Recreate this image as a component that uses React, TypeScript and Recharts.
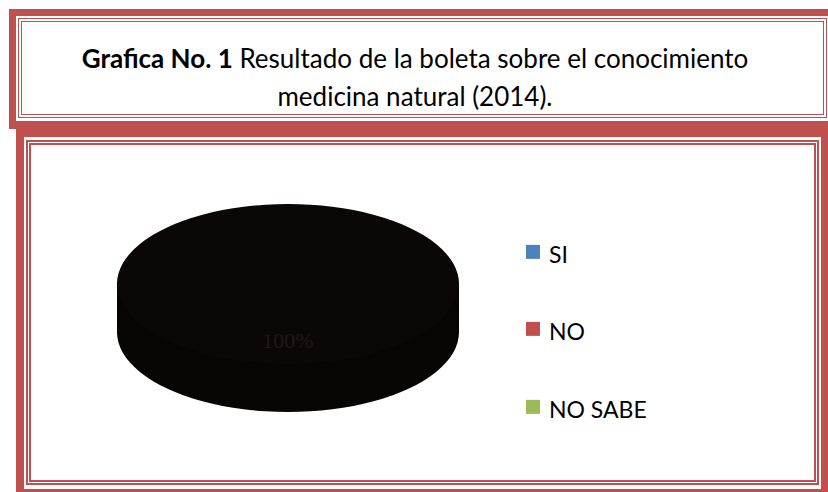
import React from "react";
import { PieChart, Pie, Cell, Legend } from "recharts";

const CATEGORIES = ["SI", "NO", "NO SABE"];
const VALUES = [100, 0, 0];
const LEGEND_COLORS = ["#4F81BD", "#C0504D", "#9BBB59"];
const TOP_FILL = "#0c0707";
const SIDE_FILL = "#070404";
const RED = "#C0504D";

// vertical squash that turns the circle into the tilted ellipse
const K = 80 / 171;
const CHART_H = Math.round(492 / K);
const PIE_CX = 288;
const PIE_CY = 284 / K;
const PIE_R = 171;
const DEPTH = 48 / K;
const SIDE_OFFSETS = [1, 0.9, 0.8, 0.7, 0.6, 0.5, 0.4, 0.3, 0.2, 0.1];

const data = CATEGORIES.map((name, i) => ({ name, value: VALUES[i] }));

const RAD = Math.PI / 180;

function renderLabel(p: any) {
  if (!p.percent) return null;
  const r = p.outerRadius * 0.7;
  const x = p.cx + r * Math.cos(-p.midAngle * RAD);
  const y = p.cy + r * Math.sin(-p.midAngle * RAD);
  return (
    <text
      x={x}
      y={y * K}
      transform={`scale(1, ${1 / K})`}
      textAnchor="middle"
      dominantBaseline="central"
      fill="#1f1919"
      fontSize={22}
      fontFamily="Liberation Serif"
    >
      {`${Math.round(p.percent * 100)}%`}
    </text>
  );
}

function LegendBox() {
  return (
    <div style={{ transform: `scaleY(${1 / K})`, transformOrigin: "0 0" }}>
      {CATEGORIES.map((c, i) => (
        <div key={c} style={{ display: "flex", alignItems: "center", height: 77.5 }}>
          <span style={{ width: 14, height: 14, background: LEGEND_COLORS[i], marginRight: 9, flex: "none" }} />
          <span style={{ fontFamily: "Lato", fontSize: 23, color: "#000", whiteSpace: "nowrap", position: "relative", top: 2 }}>{c}</span>
        </div>
      ))}
    </div>
  );
}

const titleStyle: React.CSSProperties = {
  position: "absolute",
  left: 18,
  width: 794,
  textAlign: "center",
  fontFamily: "Lato",
  fontSize: 26,
  lineHeight: "31.2px",
  color: "#000",
  whiteSpace: "nowrap",
};

export default function App() {
  return (
    <div style={{ position: "absolute", left: 0, top: 0, width: 828, height: 492, overflow: "hidden", background: "#fff" }}>
      {/* title box */}
      <div style={{ position: "absolute", left: 9, top: 9, width: 840, height: 120, boxSizing: "border-box", borderStyle: "solid", borderColor: RED, borderWidth: "7px 7px 8px 7px" }} />
      <div style={{ position: "absolute", left: 18, top: 18, width: 809, height: 100, boxSizing: "border-box", border: `4px double ${RED}` }} />
      {/* chart box */}
      <div style={{ position: "absolute", left: 16, top: 129, width: 813, height: 368, boxSizing: "border-box", border: `8px solid ${RED}`, background: "#fff" }} />
      <div style={{ position: "absolute", left: 26, top: 140, width: 793, height: 345, boxSizing: "border-box", border: `5px double ${RED}` }} />

      <div style={{ ...titleStyle, top: 43 }}>
        <b>Grafica No. 1</b> Resultado de la boleta sobre el conocimiento
      </div>
      <div style={{ ...titleStyle, top: 81 }}>medicina natural (2014).</div>

      <div style={{ position: "absolute", left: 0, top: 0, transform: `scaleY(${K})`, transformOrigin: "0 0" }}>
        <PieChart width={828} height={CHART_H} margin={{ top: 0, right: 0, bottom: 0, left: 0 }}>
          {SIDE_OFFSETS.map((f) => (
            <Pie
              key={f}
              data={data}
              dataKey="value"
              nameKey="name"
              cx={PIE_CX}
              cy={PIE_CY + DEPTH * f}
              outerRadius={PIE_R}
              startAngle={90}
              endAngle={-270}
              stroke="none"
              legendType="none"
              isAnimationActive={false}
            >
              {data.map((d) => (
                <Cell key={d.name} fill={SIDE_FILL} />
              ))}
            </Pie>
          ))}
          <Pie
            data={data}
            dataKey="value"
            nameKey="name"
            cx={PIE_CX}
            cy={PIE_CY}
            outerRadius={PIE_R}
            startAngle={90}
            endAngle={-270}
            stroke="none"
            label={renderLabel}
            labelLine={false}
            isAnimationActive={false}
          >
            {data.map((d) => (
              <Cell key={d.name} fill={TOP_FILL} />
            ))}
          </Pie>
          <Legend
            layout="vertical"
            align="right"
            verticalAlign="top"
            content={() => <LegendBox />}
            wrapperStyle={{ left: 526, top: 213 / K, width: 200, right: "auto" }}
          />
        </PieChart>
      </div>
    </div>
  );
}
